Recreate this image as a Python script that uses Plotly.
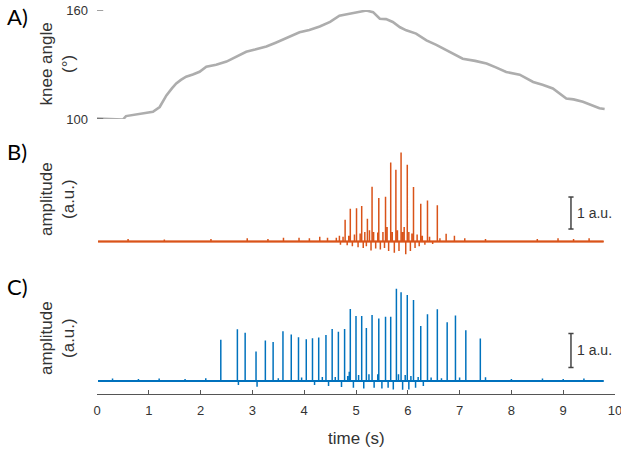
import plotly.graph_objects as go

# ---------------- data ----------------
# Panel A: knee angle (deg) vs time (s)
knee_t = [0.0, 0.3, 0.5, 0.56, 0.69, 0.82, 0.95, 1.08, 1.21, 1.34, 1.45, 1.53, 1.62,
          1.72, 1.85, 1.98, 2.11, 2.3, 2.5, 2.7, 2.88, 3.05, 3.27, 3.45, 3.65, 3.91,
          4.10, 4.30, 4.50, 4.68, 4.85, 5.0, 5.20, 5.33, 5.46, 5.58, 5.71, 5.85, 5.97,
          6.16, 6.36, 6.55, 6.74, 6.90, 7.06, 7.30, 7.52, 7.70, 7.90, 8.16, 8.30,
          8.42, 8.60, 8.80, 9.06, 9.20, 9.38, 9.55, 9.70, 9.80]
knee_deg = [100.3, 100.0, 99.7, 101.6, 102.2, 102.6, 103.0, 104.0, 106.6, 113.0, 117.0,
            119.6, 121.5, 123.3, 124.5, 126.0, 128.8, 129.8, 131.6, 134.5, 137.0, 138.2,
            139.9, 142.0, 144.5, 147.7, 149.0, 150.9, 153.5, 156.9, 157.8, 158.5, 159.7,
            158.8, 155.2, 155.0, 153.4, 150.5, 148.8, 147.0, 143.3, 140.8, 137.8, 135.6,
            133.2, 132.0, 130.5, 128.4, 125.9, 124.4, 122.0, 120.4, 118.8, 116.8, 111.3,
            110.8, 109.5, 107.6, 105.9, 105.5]

# Panel B: orange channel spikes (time s, amplitude a.u.)
b_spike_t = [4.68, 4.79, 4.89, 5.01, 5.11, 5.22, 5.31, 5.44, 5.57, 5.67, 5.77, 5.87,
             5.99, 6.11, 6.25, 6.38, 6.57, 6.74, 6.90]
b_spike_a = [0.18, 0.68, 1.02, 1.04, 1.11, 0.71, 1.71, 1.36, 1.40, 2.47, 2.24, 2.78,
             2.40, 1.70, 1.18, 1.28, 1.13, 0.24, 0.18]
b_ripple_t = [0.6, 1.3, 2.2, 2.9, 3.3, 3.6, 3.9, 4.1, 4.3, 4.45, 4.62, 4.70, 4.75, 4.83,
              4.86, 4.93, 4.97, 5.04, 5.08, 5.14, 5.17, 5.20, 5.26, 5.29, 5.34, 5.38,
              5.42, 5.47, 5.52, 5.55, 5.60, 5.63, 5.70, 5.74, 5.80, 5.83, 5.90, 5.93,
              5.96, 6.02, 6.05, 6.08, 6.14, 6.18, 6.22, 6.28, 6.33, 6.42, 6.48, 6.62,
              7.1, 7.5, 8.5, 8.9, 9.2, 9.5]
b_ripple_a = [0.08, 0.06, 0.08, 0.1, 0.08, 0.12, 0.12, 0.1, 0.15, 0.12, 0.12, -0.10,
              0.15, -0.12, 0.18, -0.15, 0.22, -0.18, 0.25, -0.2, 0.3, -0.15, 0.35,
              -0.28, 0.3, -0.22, 0.28, -0.25, 0.3, -0.2, 0.45, -0.3, 0.3, -0.35, 0.35,
              -0.3, 0.3, 0.45, -0.4, 0.3, -0.3, 0.25, -0.2, 0.22, -0.15, 0.18, -0.1,
              0.15, -0.08, 0.1, 0.1, 0.08, 0.08, 0.1, 0.08, 0.1]

# Panel C: blue channel spikes (time s, amplitude a.u.)
c_spike_t = [2.39, 2.71, 2.86, 3.07, 3.25, 3.40, 3.59, 3.75, 3.89, 4.04, 4.16, 4.28,
             4.42, 4.54, 4.66, 4.78, 4.89, 5.00, 5.11, 5.20, 5.31, 5.44, 5.57, 5.67,
             5.78, 5.87, 5.99, 6.11, 6.25, 6.38, 6.57, 6.76, 6.92, 7.12, 7.40]
c_spike_a = [1.21, 1.52, 1.42, 0.87, 1.19, 1.15, 1.46, 1.37, 1.29, 1.23, 1.26, 1.28,
             1.35, 1.53, 1.45, 1.53, 2.12, 1.91, 1.91, 1.56, 1.94, 1.84, 1.89, 1.89,
             2.71, 2.61, 2.53, 2.38, 1.62, 1.96, 2.11, 1.73, 1.93, 1.49, 1.25]
c_ripple_t = [0.3, 0.8, 1.2, 1.7, 2.1, 2.73, 3.09, 3.5, 3.95, 4.2, 4.35, 4.47, 4.6,
              4.72, 4.84, 4.87, 4.95, 5.05, 5.15, 5.25, 5.35, 5.42, 5.5, 5.57, 5.62,
              5.72, 5.82, 5.9, 5.95, 6.02, 6.06, 6.15, 6.2, 6.3, 6.45, 6.65, 7.0,
              7.5, 8.0, 8.6, 9.0, 9.4]
c_ripple_a = [0.07, 0.06, 0.07, 0.06, 0.08, -0.12, -0.17, 0.08, 0.1, -0.12, 0.12,
              -0.15, 0.12, -0.18, 0.15, 0.27, -0.2, 0.18, -0.22, 0.2, -0.2, 0.2, -0.22,
              0.27, -0.2, -0.25, 0.2, -0.26, 0.18, -0.25, 0.15, -0.2, 0.12, -0.15,
              0.1, 0.08, 0.1, 0.11, 0.06, 0.07, 0.06, 0.07]

sig_start, sig_end = 0.02, 9.78
x_ticks = list(range(0, 11))
angle_ticks = [100, 160]

# ---------------- layout helpers ----------------
W, H = 621, 449
ML, MR, MT, MB = 97, 6, 10, 55
PW, PH = W - ML - MR, H - MT - MB


def py(pix):  # pixel row -> paper y
    return (H - MB - pix) / PH


def px(pix):  # pixel column -> paper x
    return (pix - ML) / PW


def spikes(ts, amps, t0, t1):
    ev = sorted(zip(ts, amps))
    xs, ys = [t0], [0.0]
    for t, a in ev:
        xs += [t, t, t]
        ys += [0.0, a, 0.0]
    xs.append(t1)
    ys.append(0.0)
    return xs, ys


ORANGE = "#D95319"
BLUE = "#0072BD"
GREY = "#ADADAD"
TXT = "#333333"
FONT = "Liberation Sans, Arial, sans-serif"

fig = go.Figure()

fig.add_trace(go.Scatter(x=knee_t, y=knee_deg, mode="lines",
                         line=dict(color=GREY, width=2.6), xaxis="x", yaxis="y",
                         showlegend=False))

bx, by = spikes(b_spike_t + b_ripple_t, b_spike_a + b_ripple_a, sig_start, sig_end)
fig.add_trace(go.Scatter(x=[sig_start, sig_end], y=[0, 0], mode="lines",
                         line=dict(color=ORANGE, width=2.2), xaxis="x2", yaxis="y2",
                         showlegend=False))
fig.add_trace(go.Scatter(x=bx, y=by, mode="lines", line=dict(color=ORANGE, width=1.5),
                         xaxis="x2", yaxis="y2", showlegend=False))

cx, cy = spikes(c_spike_t + c_ripple_t, c_spike_a + c_ripple_a, sig_start, sig_end)
fig.add_trace(go.Scatter(x=[sig_start, sig_end], y=[0, 0], mode="lines",
                         line=dict(color=BLUE, width=2.2), xaxis="x3", yaxis="y3",
                         showlegend=False))
fig.add_trace(go.Scatter(x=cx, y=cy, mode="lines", line=dict(color=BLUE, width=1.5),
                         xaxis="x3", yaxis="y3", showlegend=False))

# pixel geometry of panels
B_BASE, B_PPU = 241.5, 32.0
C_BASE, C_PPU = 381.0, 34.0
b_lo, b_hi = -0.45, 2.95
c_lo, c_hi = -(H - MB - C_BASE) / C_PPU, 2.9

hidden_x = dict(range=[0, 10], visible=False, showgrid=False, zeroline=False,
                automargin=False)
fig.update_layout(
    width=W, height=H, margin=dict(l=ML, r=MR, t=MT, b=MB, autoexpand=False),
    paper_bgcolor="white", plot_bgcolor="white",
    font=dict(family=FONT, color=TXT),
    xaxis=dict(hidden_x, anchor="y"),
    xaxis2=dict(hidden_x, anchor="y2"),
    xaxis3=dict(range=[0, 10], anchor="y3", showline=True, linecolor="#555555",
                linewidth=1.2, ticks="inside", ticklen=4, tickcolor="#555555",
                tickwidth=1.2, tickvals=x_ticks, tickfont=dict(size=13, color=TXT),
                showgrid=False, zeroline=False, ticklabelstandoff=4,
                ticklabeloverflow="allow", automargin=False),
    yaxis=dict(domain=[py(119), py(10)], range=[100, 160], tickvals=angle_ticks,
               ticks="", showline=False, showgrid=False, zeroline=False,
               tickfont=dict(size=13, color=TXT), anchor="x", ticklabelstandoff=8,
               ticklabeloverflow="allow", automargin=False),
    yaxis2=dict(domain=[py(B_BASE - b_lo * B_PPU), py(B_BASE - b_hi * B_PPU)],
                range=[b_lo, b_hi], visible=False, anchor="x2", automargin=False),
    yaxis3=dict(domain=[0, py(C_BASE - c_hi * C_PPU)], range=[c_lo, c_hi],
                visible=False, anchor="x3", automargin=False),
)

# inside tick marks of the angle axis
for v in angle_ticks:
    fig.add_shape(type="line", xref="x", yref="y", x0=0, x1=0.12, y0=v, y1=v,
                  line=dict(color="#444444", width=1), layer="above")

# scale bars
bar_t, cap = 9.15, 0.05
for yr, y0 in (("y2", 0.39), ("y3", 0.40)):
    xr = "x2" if yr == "y2" else "x3"
    fig.add_shape(type="line", xref=xr, yref=yr, x0=bar_t, x1=bar_t, y0=y0, y1=y0 + 1,
                  line=dict(color="#444444", width=1.5))
    for yy in (y0, y0 + 1):
        fig.add_shape(type="line", xref=xr, yref=yr, x0=bar_t - cap, x1=bar_t + cap,
                      y0=yy, y1=yy, line=dict(color="#444444", width=1.5))
    fig.add_annotation(xref=xr, yref=yr, x=bar_t + 0.08, y=y0 + 0.5, text="1 a.u.",
                       showarrow=False, xanchor="left", yanchor="middle",
                       font=dict(size=14, color=TXT))

# y titles
for text, ypix in (("knee angle<br>(°)", 64.5), ("amplitude<br>(a.u.)", 199),
                   ("amplitude<br>(a.u.)", 338)):
    fig.add_annotation(xref="paper", yref="paper", x=px(57), y=py(ypix), text=text,
                       textangle=-90, showarrow=False, xanchor="center",
                       yanchor="middle", font=dict(size=17, color=TXT))

# panel letters
for text, ypix in (("A)", 17), ("B)", 151), ("C)", 286)):
    fig.add_annotation(xref="paper", yref="paper", x=px(17), y=py(ypix), text=text,
                       showarrow=False, xanchor="center", yanchor="middle",
                       font=dict(family="Lato, Open Sans, sans-serif", size=22,
                                 color="black"))

fig.add_annotation(xref="paper", yref="paper", x=0.5, y=py(438), text="time (s)",
                   showarrow=False, xanchor="center", yanchor="middle",
                   font=dict(size=17, color=TXT))

fig.write_html("out.html")
